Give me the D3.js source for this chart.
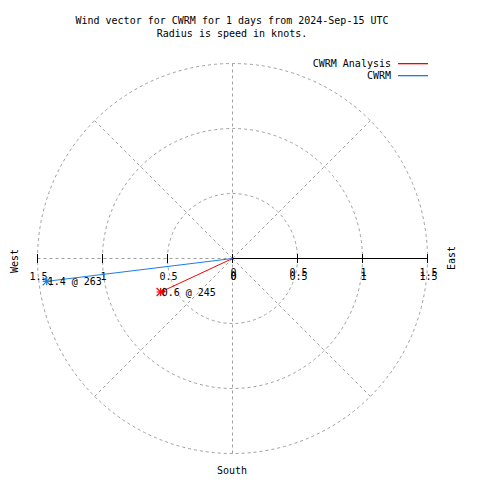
<!DOCTYPE html>
<html><head><meta charset="utf-8">
<script src="https://cdn.jsdelivr.net/npm/d3@7"></script>
<style>body{margin:0;background:#fff}svg{display:block}text{font-family:"DejaVu Sans Mono",monospace;font-size:10px;fill:#000}</style>
</head><body>
<script>
const titleLines = ["Wind vector for CWRM for 1 days from 2024-Sep-15 UTC", "Radius is speed in knots."];
const seriesNames = ["CWRM Analysis", "CWRM"];
const speeds = [0.61, 1.44];
const directions = [245, 263];
const radialTicks = [0, 0.5, 1, 1.5];
const ringValues = [0.5, 1, 1.5];
const spokeAngles = [0, 45, 90, 135, 180, 225, 270, 315];
const compassLabels = ["West", "East", "South"];

const W = 480, H = 480, cx = 232.5, cy = 258.5;
const colors = ["#ff0000", "#1a7de6"];
const svg = d3.select("body").append("svg").attr("width", W).attr("height", H);
const r = d3.scaleLinear().domain([0, 1.5]).range([0, 195]);
const rMax = r(1.5);
const px = (sp, dir) => cx + r(sp) * Math.sin(dir * Math.PI / 180);
const py = (sp, dir) => cy - r(sp) * Math.cos(dir * Math.PI / 180);

const grid = svg.append("g").attr("stroke", "#a0a0a0").attr("stroke-dasharray", "3,3").attr("fill", "none");
grid.selectAll("circle").data(ringValues).join("circle")
  .attr("cx", cx).attr("cy", cy).attr("r", d => r(d));
grid.selectAll("line").data(spokeAngles.filter(a => a !== 90)).join("line")
  .attr("x1", cx).attr("y1", cy)
  .attr("x2", d => px(1.5, d)).attr("y2", d => py(1.5, d));

// r axis (east side solid)
svg.append("line").attr("x1", cx).attr("y1", cy).attr("x2", cx + rMax).attr("y2", cy)
  .attr("stroke", "#000");
const ticks = svg.append("g").attr("stroke", "#000");
radialTicks.forEach(t => {
  [1, -1].forEach(s => {
    ticks.append("line").attr("x1", cx + s * r(t)).attr("x2", cx + s * r(t))
      .attr("y1", cy - 4.5).attr("y2", cy + 4.5);
  });
});
const fmtTick = d3.format("");
// west-side labels
svg.append("g").selectAll("text").data(radialTicks).join("text")
  .attr("x", d => cx - r(d) + 1).attr("y", cy + 21).attr("text-anchor", "middle")
  .text(d => fmtTick(d));
// east-side labels (doubled, as in the reference)
[17, 21].forEach(off => {
  svg.append("g").selectAll("text").data(radialTicks).join("text")
    .attr("x", d => cx + r(d) + 1).attr("y", cy + off).attr("text-anchor", "middle")
    .text(d => fmtTick(d));
});

// vectors
const fmtS = d3.format(".1f");
seriesNames.forEach((name, i) => {
  const x = px(speeds[i], directions[i]), y = py(speeds[i], directions[i]);
  svg.append("line").attr("x1", cx).attr("y1", cy).attr("x2", x).attr("y2", y)
    .attr("stroke", colors[i]).attr("stroke-width", 1);
  const g = svg.append("g").attr("stroke", colors[i]).attr("stroke-width", 1.2);
  const s = 4;
  [[-s, 0, s, 0], [0, -s, 0, s], [-s, -s, s, s], [-s, s, s, -s]].forEach(q => {
    g.append("line").attr("x1", x + q[0]).attr("y1", y + q[1]).attr("x2", x + q[2]).attr("y2", y + q[3]);
  });
  svg.append("text").attr("x", x + 1).attr("y", y + 4)
    .text(fmtS(speeds[i]) + " @ " + directions[i]);
});

// legend
seriesNames.forEach((name, i) => {
  const y = 63 + i * 12;
  svg.append("text").attr("x", 391).attr("y", y + 4).attr("text-anchor", "end").text(name);
  svg.append("rect").attr("x", 398).attr("y", y).attr("width", 30).attr("height", 1.3)
    .attr("fill", colors[i]);
});

// title
titleLines.forEach((t, i) => {
  svg.append("text").attr("x", 232).attr("y", 24 + i * 13).attr("text-anchor", "middle").text(t);
});

// compass labels
svg.append("text").attr("transform", "translate(18,261) rotate(-90)").attr("text-anchor", "middle").text(compassLabels[0]);
svg.append("text").attr("transform", "translate(455,258) rotate(-90)").attr("text-anchor", "middle").text(compassLabels[1]);
svg.append("text").attr("x", 232).attr("y", 474).attr("text-anchor", "middle").text(compassLabels[2]);
</script>
</body></html>
